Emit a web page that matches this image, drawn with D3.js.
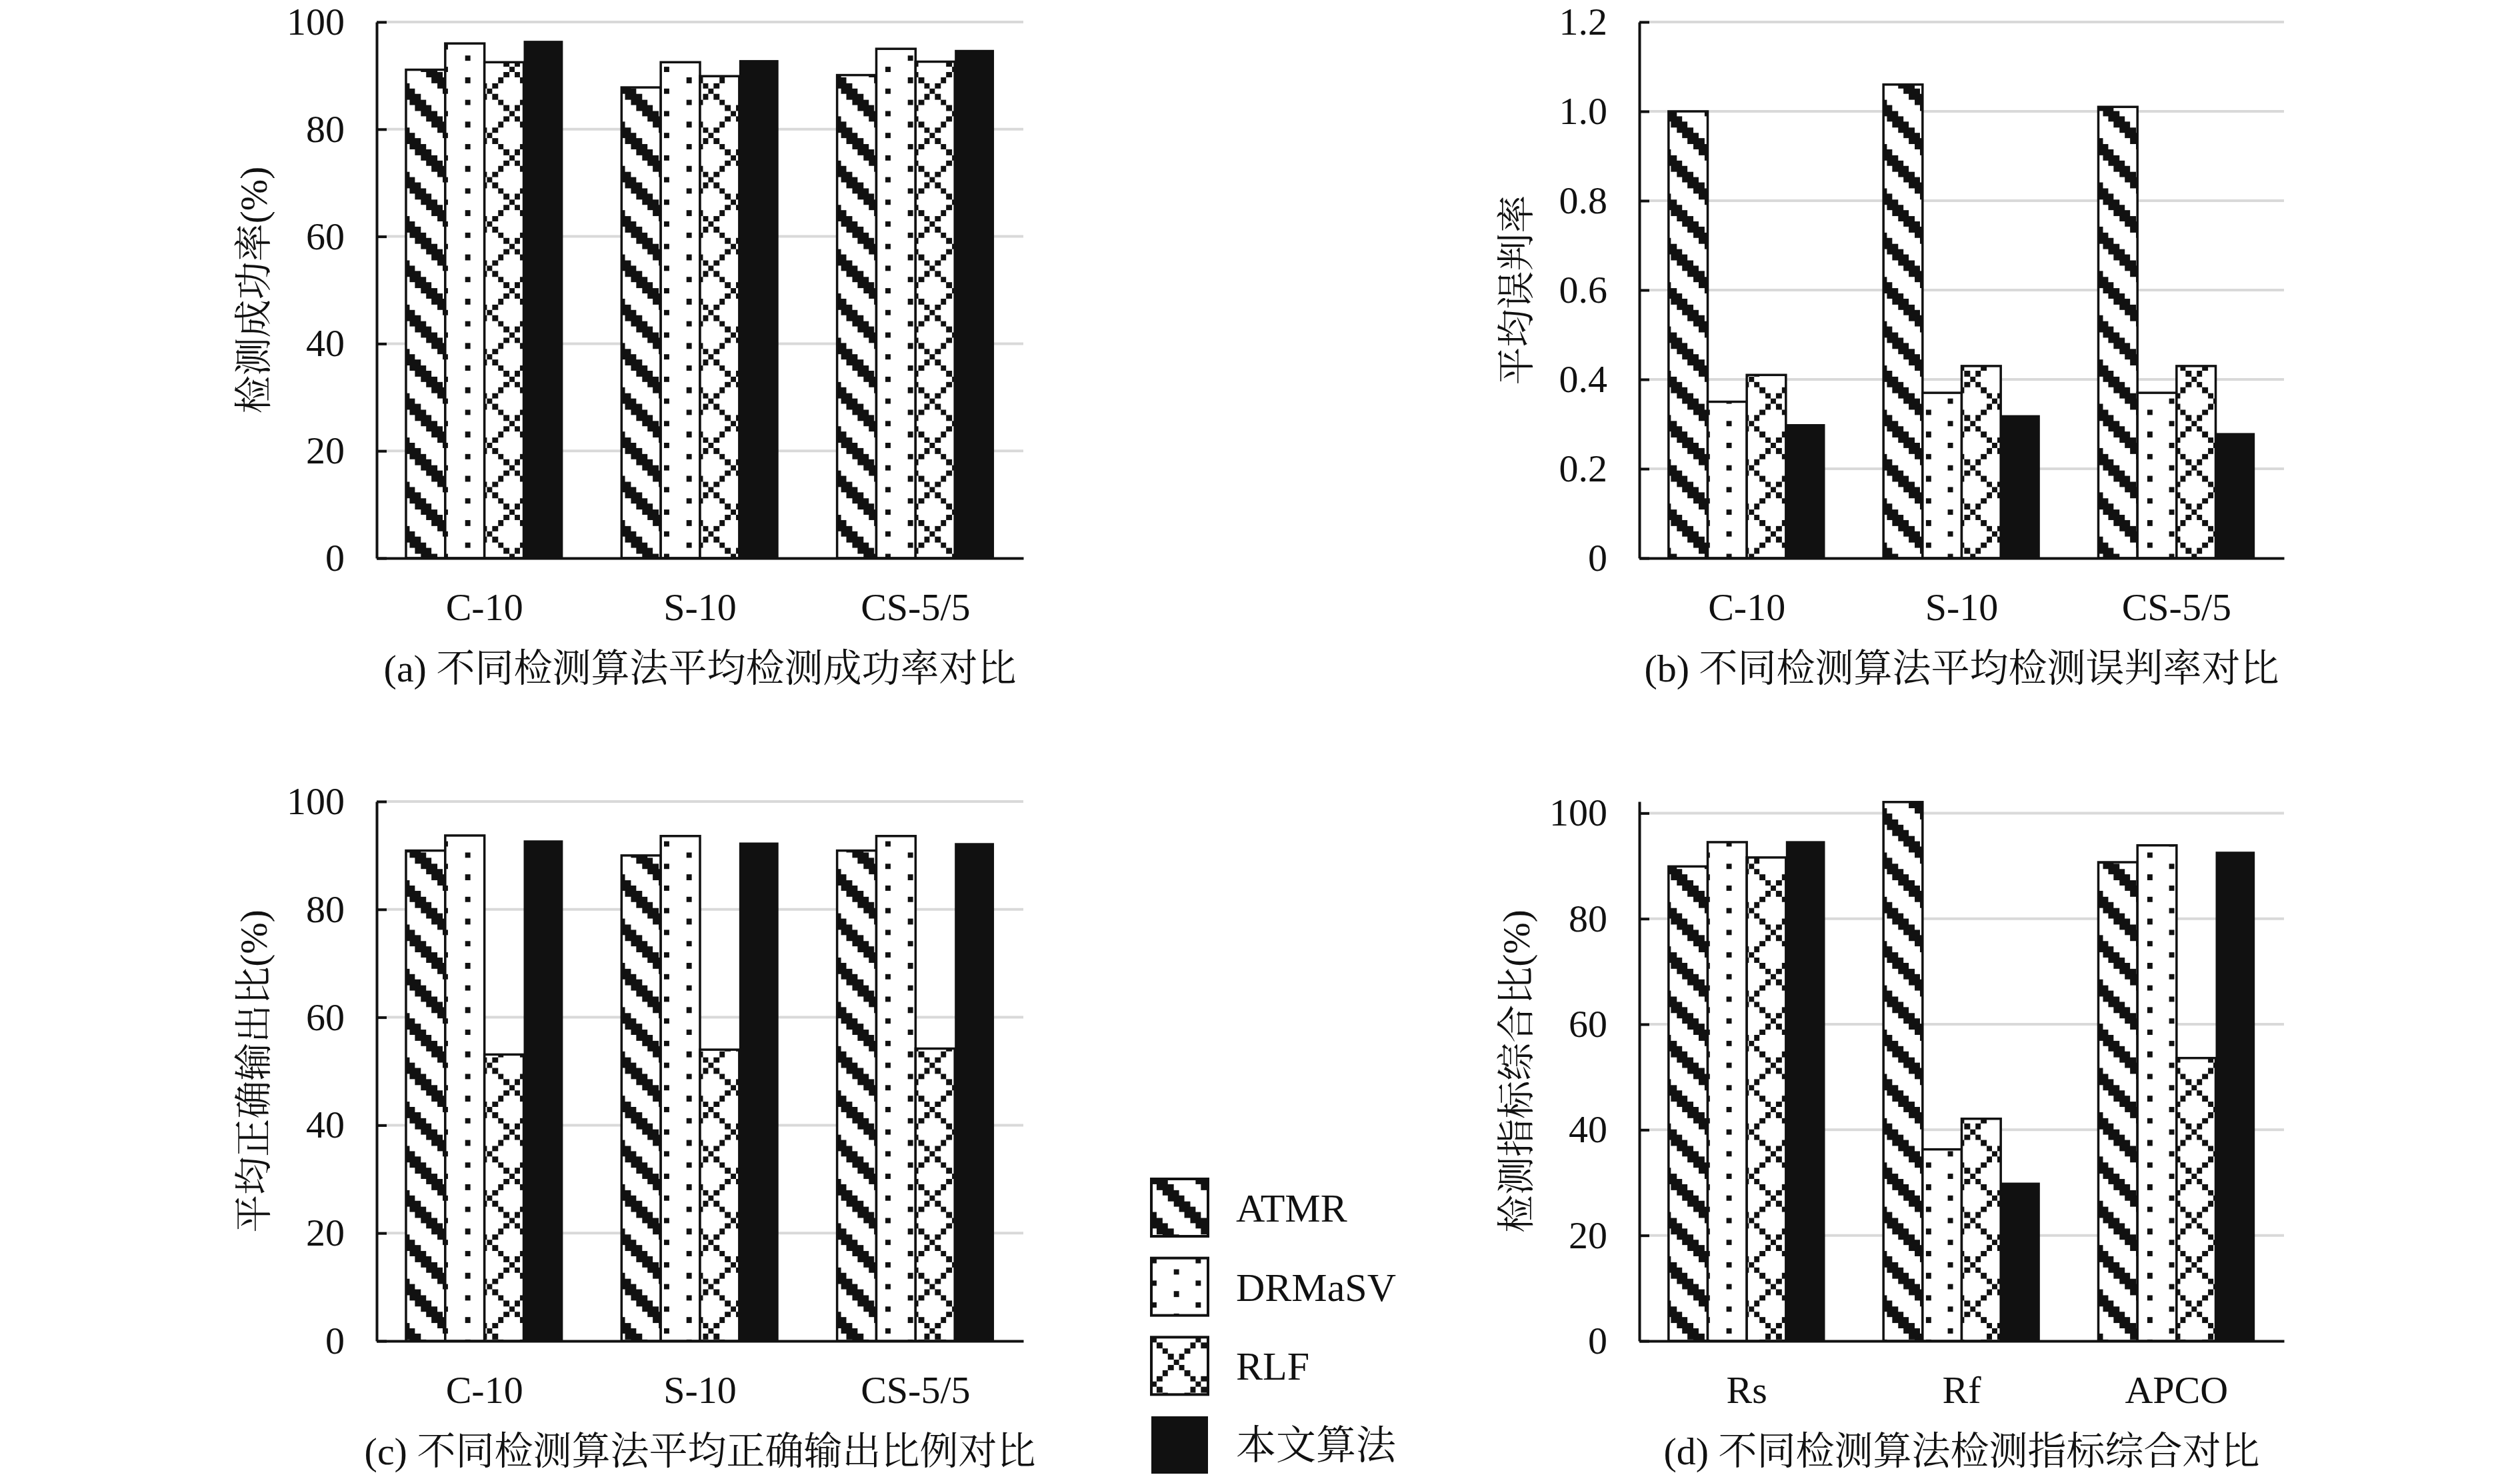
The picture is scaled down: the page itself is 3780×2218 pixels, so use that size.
<!DOCTYPE html>
<html>
<head>
<meta charset="utf-8">
<script src="https://cdn.jsdelivr.net/npm/d3@7"></script>
<style>
  body { margin: 0; background: #fff; }
  text { font-family: "Liberation Serif", "Noto Serif CJK SC", "Noto Sans CJK SC", serif; fill: #111; }
</style>
</head>
<body>
<div id="fig"></div>
<script>
    // algorithms (legend order) and the x categories
    var algos = ["ATMR", "DRMaSV", "RLF", "本文算法"];
    var datasets = ["C-10", "S-10", "CS-5/5"];
    var metrics = ["Rs", "Rf", "APCO"];

    // (a) detection success rate, one row per algorithm
    var successRate = [[91.1, 87.8, 90.1], [96.0, 92.5, 95.0], [92.5, 89.9, 92.6], [96.5, 92.9, 94.8]];
    // (b) average misjudgement rate
    var misjudgeRate = [[1.00, 1.06, 1.01], [0.35, 0.37, 0.37], [0.41, 0.43, 0.43], [0.30, 0.32, 0.28]];
    // (c) correct output ratio
    var correctRatio = [[90.9, 90.0, 90.9], [93.7, 93.6, 93.6], [53.1, 54.0, 54.2], [92.8, 92.4, 92.3]];
    // (d) combined indicators
    var combined = [[89.9, 102.1, 90.7], [94.5, 36.3, 93.9], [91.6, 42.1, 53.6], [94.7, 30.0, 92.7]];

    var ticksPct = [0, 20, 40, 60, 80, 100];
    var ticksErr = [0, 0.2, 0.4, 0.6, 0.8, 1.0, 1.2];

    var serif = '"Liberation Serif", "Noto Serif CJK SC", "Noto Sans CJK SC", serif';

    var width = 3780, height = 2218;
    var svg = d3.select('#fig').append('svg')
                .attr('width', width)
                .attr('height', height);
    svg.append('rect').attr('width', width).attr('height', height).attr('fill', '#fff');

    // excel-like 8x8 fill patterns, scaled up
    var px = 8.3;
    var bitmaps = [
        function(c, r) { return ((c - r + 8) % 8) < 3; },                               // wide downward diagonal
        function(c, r) { return (c === 0 && r % 4 === 0) || (c === 4 && r % 4 === 2); }, // dots
        function(c, r) { return c === r || c === (8 - r) % 8; }                          // diamond lattice
    ];
    var defs = svg.append('defs');
    bitmaps.forEach(function(fn, k) {
        var p = defs.append('pattern')
                    .attr('id', 'pat' + k)
                    .attr('patternUnits', 'userSpaceOnUse')
                    .attr('width', 8 * px).attr('height', 8 * px);
        p.append('rect').attr('width', 8 * px).attr('height', 8 * px).attr('fill', '#fff');
        var cells = [];
        for (var r = 0; r < 8; r++) for (var c = 0; c < 8; c++) if (fn(c, r)) cells.push([c, r]);
        p.selectAll('rect.px').data(cells).enter().append('rect')
            .attr('class', 'px')
            .attr('x', d => d[0] * px).attr('y', d => d[1] * px)
            .attr('width', px).attr('height', px)
            .attr('fill', '#111')
            .attr('shape-rendering', 'crispEdges');
    });
    function fillOf(k) { return k < 3 ? 'url(#pat' + k + ')' : '#111'; }

    function drawPanel(cfg) {
        var g = svg.append('g');
        var x = d3.scaleBand().domain(cfg.cats).range([cfg.x0, cfg.x1])
                  .paddingInner(0.272).paddingOuter(0.136);
        var xs = d3.scaleBand().domain(d3.range(algos.length)).range([0, x.bandwidth()]);
        var y = d3.scaleLinear().domain([0, cfg.max]).range([cfg.y1, cfg.y0]);

        // gridlines
        g.selectAll('line.grid').data(cfg.ticks.filter(t => t > 0)).enter().append('line')
            .attr('x1', cfg.x0).attr('x2', cfg.x1)
            .attr('y1', d => y(d)).attr('y2', d => y(d))
            .attr('stroke', '#d9d9d9').attr('stroke-width', 4);

        // bars
        var rows = [];
        cfg.series.forEach(function(vals, k) {
            vals.forEach(function(v, i) { rows.push({k: k, cat: cfg.cats[i], v: v}); });
        });
        g.selectAll('rect.bar').data(rows).enter().append('rect')
            .attr('x', d => x(d.cat) + xs(d.k))
            .attr('y', d => y(d.v))
            .attr('width', xs.bandwidth())
            .attr('height', d => cfg.y1 - y(d.v))
            .attr('fill', d => fillOf(d.k))
            .attr('stroke', '#111')
            .attr('stroke-width', d => d.k < 3 ? 3.5 : 0);

        // y axis, ticks pointing inward
        var ya = g.append('g').attr('transform', 'translate(' + cfg.x0 + ',0)')
            .call(d3.axisLeft(y).tickValues(cfg.ticks).tickFormat(cfg.fmt)
                    .tickSize(-15).tickSizeOuter(0).tickPadding(48));
        ya.attr('font-family', serif);
        ya.selectAll('line').attr('stroke', '#111').attr('stroke-width', 4);
        ya.select('.domain').attr('stroke', '#111').attr('stroke-width', 4);
        ya.selectAll('text').attr('font-size', 58).attr('font-family', serif);

        // x axis
        var xa = g.append('g').attr('transform', 'translate(0,' + cfg.y1 + ')')
            .call(d3.axisBottom(x).tickSize(0).tickSizeOuter(0).tickPadding(52));
        xa.attr('font-family', serif);
        xa.select('.domain').attr('stroke', '#111').attr('stroke-width', 4);
        xa.selectAll('text').attr('font-size', 58).attr('font-family', serif);

        g.append('text')
            .attr('transform', 'translate(' + (cfg.x0 - 185) + ',' + (cfg.y0 + cfg.y1) / 2 + ') rotate(-90)')
            .attr('text-anchor', 'middle').attr('dy', '0.35em')
            .attr('font-size', 57).attr('font-family', serif)
            .text(cfg.ylabel);

        g.append('text')
            .attr('x', (cfg.x0 + cfg.x1) / 2).attr('y', cfg.y1 + 165)
            .attr('text-anchor', 'middle').attr('dy', '0.35em')
            .attr('font-size', 58).attr('font-family', serif)
            .text(cfg.caption);
    }

    var pctFmt = d3.format('d');
    var errFmt = function(d) { return d === 0 ? '0' : d3.format('.1f')(d); };

    drawPanel({x0: 565, x1: 1535, y0: 33, y1: 837, cats: datasets, series: successRate,
               max: 100, ticks: ticksPct, fmt: pctFmt,
               ylabel: '检测成功率(%)', caption: '(a) 不同检测算法平均检测成功率对比'});
    drawPanel({x0: 2459, x1: 3426, y0: 33, y1: 837, cats: datasets, series: misjudgeRate,
               max: 1.2, ticks: ticksErr, fmt: errFmt,
               ylabel: '平均误判率', caption: '(b) 不同检测算法平均检测误判率对比'});
    drawPanel({x0: 565, x1: 1535, y0: 1202, y1: 2011, cats: datasets, series: correctRatio,
               max: 100, ticks: ticksPct, fmt: pctFmt,
               ylabel: '平均正确输出比(%)', caption: '(c) 不同检测算法平均正确输出比例对比'});
    drawPanel({x0: 2459, x1: 3426, y0: 1202, y1: 2011, cats: metrics, series: combined,
               max: 102.2, ticks: ticksPct, fmt: pctFmt,
               ylabel: '检测指标综合比(%)', caption: '(d) 不同检测算法检测指标综合对比'});

    // legend in the middle gap
    var ly = d3.scalePoint().domain(algos).range([1768, 2124]);
    var lg = svg.append('g').attr('class', 'legend');
    var item = lg.selectAll('g').data(algos).enter().append('g')
                 .attr('transform', d => 'translate(1727,' + ly(d) + ')');
    item.append('rect')
        .attr('width', 85).attr('height', 86)
        .attr('fill', (d, i) => fillOf(i))
        .attr('stroke', '#111')
        .attr('stroke-width', (d, i) => i < 3 ? 4 : 0);
    item.append('text')
        .attr('x', 127).attr('y', 43).attr('dy', '0.35em')
        .attr('font-size', 60).attr('font-family', serif)
        .text(d => d);
</script>
</body>
</html>
